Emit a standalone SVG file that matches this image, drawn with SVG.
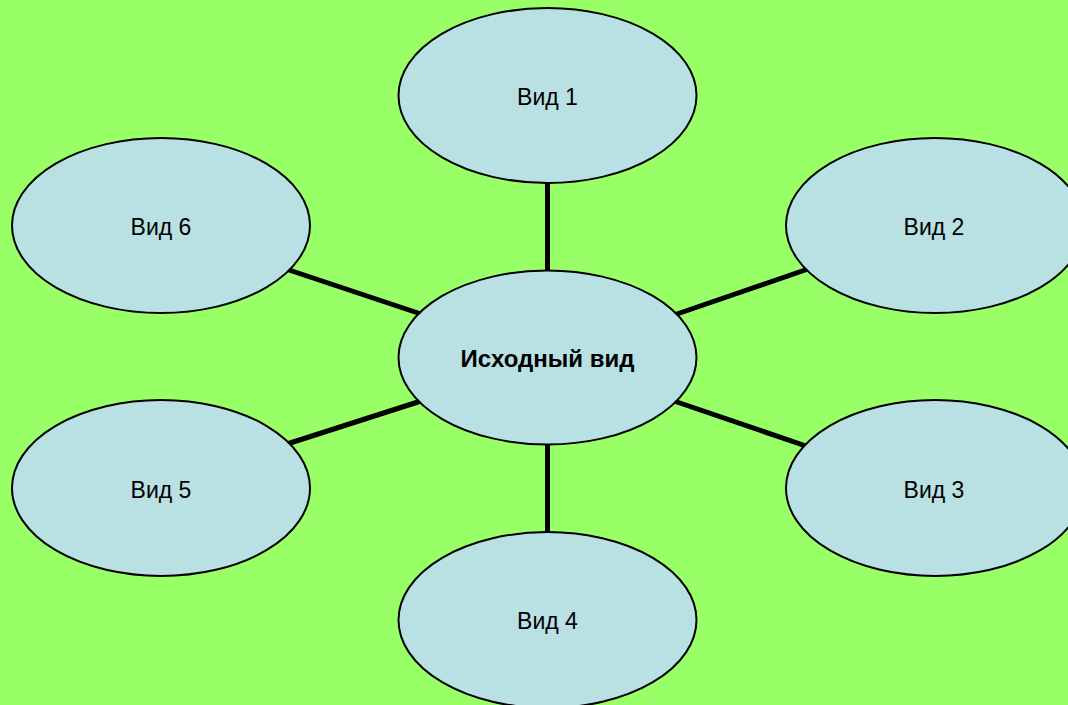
<svg xmlns="http://www.w3.org/2000/svg" width="1068" height="705" viewBox="0 0 1068 705">
<style>
.bg{fill:#99FF66}
.node ellipse{fill:#B9E0E3;stroke:#000;stroke-width:2}
.node text{font-family:"Liberation Sans",Arial,sans-serif;font-size:23px;fill:#000;text-anchor:middle}
.node text.main{font-weight:bold;font-size:24px}
.conn line{stroke:#000;stroke-width:5}
</style>
<rect class="bg" x="0" y="0" width="1068" height="705"/>
<g id="connectors" class="conn">
<line x1="547.5" y1="180" x2="547.5" y2="273"/>
<line x1="547.5" y1="442" x2="547.5" y2="535"/>
<line x1="286" y1="269" x2="421" y2="314"/>
<line x1="287" y1="444" x2="421" y2="401"/>
<line x1="674" y1="315" x2="808" y2="269"/>
<line x1="674" y1="401" x2="806" y2="446"/>
</g>
<g id="center" class="node">
<ellipse cx="547.5" cy="357.5" rx="149" ry="87"/>
<text class="main" x="547.5" y="366.5">Исходный вид</text>
</g>
<g id="vid1" class="node">
<ellipse cx="547.5" cy="95.5" rx="149" ry="87.5"/>
<text x="547.5" y="105">Вид 1</text>
</g>
<g id="vid2" class="node">
<ellipse cx="935" cy="225.5" rx="149" ry="87.5"/>
<text x="934" y="235">Вид 2</text>
</g>
<g id="vid3" class="node">
<ellipse cx="935" cy="488" rx="149" ry="88"/>
<text x="934" y="498">Вид 3</text>
</g>
<g id="vid4" class="node">
<ellipse cx="547.5" cy="620" rx="149" ry="88"/>
<text x="547.5" y="629">Вид 4</text>
</g>
<g id="vid5" class="node">
<ellipse cx="161" cy="488" rx="149" ry="88"/>
<text x="161" y="498">Вид 5</text>
</g>
<g id="vid6" class="node">
<ellipse cx="161" cy="225.5" rx="149" ry="87.5"/>
<text x="161" y="235">Вид 6</text>
</g>
</svg>
